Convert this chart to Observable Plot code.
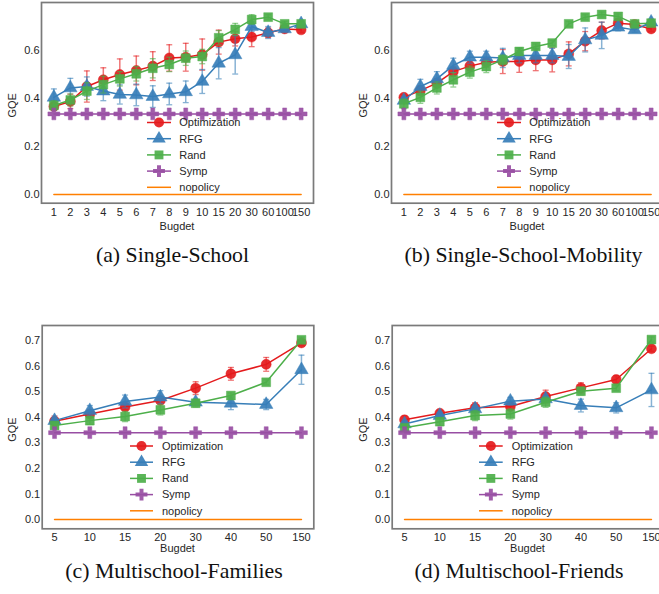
<!DOCTYPE html>
<html><head><meta charset="utf-8">
<script src="https://cdn.jsdelivr.net/npm/d3@7"></script>
<script src="https://cdn.jsdelivr.net/npm/@observablehq/plot@0.6"></script>
<style>
html,body{margin:0;padding:0;background:#fff;overflow:hidden;}
#page{position:relative;width:659px;height:594px;overflow:hidden;background:#fff;}
.panel{position:absolute;width:330px;}
.panel svg{max-width:none !important;}
</style></head><body><div id="page"></div>
<script>
// ---- tick labels / categories ----
const singleBudgets = ["1","2","3","4","5","6","7","8","9","10","15","20","30","60","100","150"];
const multiBudgets = ["5","10","15","20","30","40","50","150"];
const yTicksSingle = [0.0, 0.2, 0.4, 0.6];
const yTicksMulti = [0.0, 0.1, 0.2, 0.3, 0.4, 0.5, 0.6, 0.7];

// ---- series ----
const seriesNames = ["Optimization", "RFG", "Rand", "Symp", "nopolicy"];
const seriesColors = ["#e41a1c", "#377eb8", "#4daf4a", "#984ea3", "#ff7f00"];
const seriesSymbols = ["circle", "triangle", "square", "cross", null];
const captions = ["(a) Single-School", "(b) Single-School-Mobility", "(c) Multischool-Families", "(d) Multischool-Friends"];

// (a) Single-School
const aOpt     = [0.367,0.388,0.450,0.478,0.500,0.517,0.535,0.569,0.572,0.583,0.635,0.649,0.656,0.674,0.690,0.686];
const aOptErr  = [0.015,0.030,0.065,0.050,0.065,0.060,0.060,0.055,0.058,0.065,0.050,0.030,0.040,0.020,0.010,0.010];
const aRfg     = [0.405,0.444,0.450,0.431,0.417,0.415,0.408,0.419,0.428,0.471,0.547,0.582,0.700,0.675,0.690,0.711];
const aRfgErr  = [0.035,0.040,0.040,0.040,0.040,0.045,0.045,0.045,0.045,0.050,0.065,0.080,0.020,0.025,0.010,0.010];
const aRand    = [0.371,0.394,0.431,0.458,0.482,0.503,0.526,0.542,0.568,0.575,0.653,0.688,0.729,0.739,0.711,0.711];
const aRandErr = [0.020,0.025,0.035,0.035,0.030,0.030,0.040,0.030,0.030,0.030,0.030,0.025,0.020,0.010,0.010,0.010];
const aSymp    = [0.336,0.336,0.336,0.336,0.336,0.336,0.336,0.336,0.336,0.336,0.336,0.336,0.336,0.336,0.336,0.336];
const aNo      = [0,0,0,0,0,0,0,0,0,0,0,0,0,0,0,0];

// (b) Single-School-Mobility
const bOpt     = [0.405,0.433,0.464,0.512,0.535,0.551,0.554,0.554,0.561,0.561,0.586,0.639,0.683,0.714,0.708,0.690];
const bOptErr  = [0.010,0.020,0.020,0.020,0.020,0.020,0.050,0.045,0.045,0.050,0.050,0.040,0.035,0.020,0.010,0.010];
const bRfg     = [0.392,0.450,0.482,0.538,0.572,0.572,0.569,0.579,0.579,0.579,0.575,0.644,0.663,0.697,0.686,0.718];
const bRfgErr  = [0.010,0.030,0.030,0.030,0.025,0.025,0.040,0.030,0.030,0.030,0.050,0.050,0.055,0.015,0.010,0.010];
const bRand    = [0.378,0.405,0.444,0.478,0.510,0.533,0.561,0.596,0.617,0.631,0.711,0.739,0.750,0.742,0.711,0.714];
const bRandErr = [0.020,0.025,0.025,0.030,0.025,0.025,0.020,0.015,0.010,0.010,0.010,0.010,0.010,0.010,0.010,0.010];
const bSymp    = [0.336,0.336,0.336,0.336,0.336,0.336,0.336,0.336,0.336,0.336,0.336,0.336,0.336,0.336,0.336,0.336];
const bNo      = [0,0,0,0,0,0,0,0,0,0,0,0,0,0,0,0];

// (c) Multischool-Families
const cOpt     = [0.385,0.413,0.440,0.466,0.514,0.570,0.607,0.691];
const cOptErr  = [0.020,0.010,0.010,0.010,0.025,0.025,0.027,0.010];
const cRfg     = [0.387,0.426,0.462,0.479,0.459,0.455,0.450,0.586];
const cRfgErr  = [0.010,0.020,0.025,0.025,0.010,0.025,0.020,0.057];
const cRand    = [0.368,0.387,0.403,0.429,0.455,0.485,0.537,0.703];
const cRandErr = [0.010,0.015,0.020,0.020,0.015,0.010,0.010,0.010];
const cSymp    = [0.340,0.340,0.340,0.340,0.340,0.340,0.340,0.340];
const cNo      = [0,0,0,0,0,0,0,0];

// (d) Multischool-Friends
const dOpt     = [0.390,0.416,0.437,0.442,0.481,0.515,0.548,0.668];
const dOptErr  = [0.015,0.010,0.020,0.015,0.025,0.020,0.015,0.010];
const dRfg     = [0.374,0.407,0.433,0.463,0.472,0.446,0.437,0.507];
const dRfgErr  = [0.010,0.010,0.010,0.015,0.010,0.025,0.020,0.065];
const dRand    = [0.359,0.383,0.407,0.413,0.459,0.502,0.514,0.704];
const dRandErr = [0.010,0.015,0.020,0.020,0.020,0.015,0.010,0.010];
const dSymp    = [0.340,0.340,0.340,0.340,0.340,0.340,0.340,0.340];
const dNo      = [0,0,0,0,0,0,0,0];

const FONT = "'Liberation Sans', Arial, sans-serif";
const TXT = "#262626";
const d3Symbols = {circle: d3.symbolCircle, triangle: d3.symbolTriangle, square: d3.symbolSquare, cross: d3.symbolCross};
const R = 5;

function panel(cfg) {
  const marks = [];
  cfg.series.forEach((s, k) => {
    const rows = s.values.map((v, i) => ({i, v, e: s.errs ? s.errs[i] : 0}));
    const color = seriesColors[k];
    if (s.errs) {
      marks.push(Plot.ruleX(rows, {x: "i", y1: d => d.v - d.e, y2: d => d.v + d.e, stroke: color, strokeOpacity: 0.6, strokeWidth: 1.5}));
      for (const sign of [1, -1]) {
        marks.push(Plot.link(rows, {x1: d => d.i - cfg.cap, x2: d => d.i + cfg.cap, y1: d => d.v + sign * d.e, y2: d => d.v + sign * d.e, stroke: color, strokeOpacity: 0.6, strokeWidth: 1.3}));
      }
    }
    marks.push(Plot.line(rows, {x: "i", y: "v", stroke: color, strokeWidth: 1.5}));
    if (seriesSymbols[k]) {
      marks.push(Plot.dot(rows, {x: "i", y: "v", symbol: seriesSymbols[k], r: R, fill: color, fillOpacity: 0.92, stroke: color, strokeOpacity: 0.45, strokeWidth: 1}));
    }
  });
  marks.push(Plot.frame({stroke: "#7a7a7a", strokeWidth: 1.7}));

  const n = cfg.labels.length;
  const svg = Plot.plot({
    width: cfg.width, height: cfg.height,
    marginLeft: cfg.ml, marginRight: cfg.mr, marginTop: cfg.mt, marginBottom: cfg.mb,
    style: {fontFamily: FONT, fontSize: "11px", color: TXT, background: "transparent", overflow: "visible", maxWidth: "none"},
    x: {type: "linear", domain: cfg.xdom, ticks: d3.range(n), tickFormat: i => cfg.labels[i], tickSize: 0, tickPadding: cfg.xpad, label: null},
    y: {domain: cfg.ydom, ticks: cfg.yticks, tickFormat: d3.format(".1f"), tickSize: 0, tickPadding: 2, label: null},
    marks
  });
  svg.style.maxWidth = "none";
  const sel = d3.select(svg);
  const fx0 = cfg.ml, fx1 = cfg.width - cfg.mr, fy0 = cfg.mt, fy1 = cfg.height - cfg.mb;
  // axis labels
  sel.append("text").attr("transform", `translate(${cfg.ylabX},${(fy0 + fy1) / 2 + 3}) rotate(-90)`)
    .attr("text-anchor", "middle").attr("dy", "0.35em").attr("font-family", FONT).attr("font-size", 11).attr("fill", TXT).text("GQE");
  sel.append("text").attr("x", (fx0 + fx1) / 2).attr("y", cfg.xlabY).attr("text-anchor", "middle").attr("dy", "0.35em")
    .attr("font-family", FONT).attr("font-size", 11).attr("fill", TXT).text("Bugdet");
  // legend
  const g = sel.append("g").attr("font-family", FONT).attr("font-size", 11).attr("text-anchor", "start");
  seriesNames.forEach((name, k) => {
    const y = cfg.legY + k * 16.2;
    g.append("line").attr("x1", cfg.legX1).attr("x2", cfg.legX2).attr("y1", y).attr("y2", y)
      .attr("stroke", seriesColors[k]).attr("stroke-width", 1.5);
    if (seriesSymbols[k]) {
      g.append("path").attr("d", d3.symbol(d3Symbols[seriesSymbols[k]], Math.PI * R * R)())
        .attr("transform", `translate(${(cfg.legX1 + cfg.legX2) / 2},${y})`).attr("fill", seriesColors[k]).attr("fill-opacity", 0.92);
    }
    g.append("text").attr("x", cfg.legTX).attr("y", y).attr("dy", "0.35em").attr("text-anchor", "start").attr("fill", TXT).text(name);
  });
  const div = document.createElement("div");
  div.className = "panel";
  div.style.left = cfg.left + "px";
  div.style.top = cfg.top + "px";
  div.style.width = cfg.width + "px";
  div.appendChild(svg);
  document.getElementById("page").appendChild(div);
}

const singleBase = {width: 330, height: 235, ml: 41, mr: 17, mt: 2, mb: 32.3, xdom: [-0.75, 15.75], ydom: [-0.036, 0.80], yticks: yTicksSingle, labels: singleBudgets, cap: 0.18, xpad: 5, xlabY: 226, legY: 122.5, legX1: 147, legX2: 171, legTX: 179.3};
const multiBase = {width: 330, height: 260, ml: 41.7, mr: 16.7, mt: 25, mb: 31.7, xdom: [-0.35, 7.35], ydom: [-0.036, 0.759], yticks: yTicksMulti, labels: multiBudgets, cap: 0.085, xpad: 4, xlabY: 248, legY: 146, legX1: 130, legX2: 153, legTX: 162};

panel({...singleBase, left: 0, top: 0, ylabX: 12, series: [
  {values: aOpt, errs: aOptErr}, {values: aRfg, errs: aRfgErr}, {values: aRand, errs: aRandErr}, {values: aSymp}, {values: aNo}]});
panel({...singleBase, left: 350, top: 0, ylabX: 13, series: [
  {values: bOpt, errs: bOptErr}, {values: bRfg, errs: bRfgErr}, {values: bRand, errs: bRandErr}, {values: bSymp}, {values: bNo}]});
panel({...multiBase, left: 0, top: 300, ylabX: 12, series: [
  {values: cOpt, errs: cOptErr}, {values: cRfg, errs: cRfgErr}, {values: cRand, errs: cRandErr}, {values: cSymp}, {values: cNo}]});
panel({...multiBase, left: 350, top: 300, ylabX: 13, legX1: 129, legX2: 152.7, legTX: 161.7, series: [
  {values: dOpt, errs: dOptErr}, {values: dRfg, errs: dRfgErr}, {values: dRand, errs: dRandErr}, {values: dSymp}, {values: dNo}]});

// captions
const cap = d3.select("#page").append("svg").attr("width", 659).attr("height", 594)
  .style("position", "absolute").style("left", "0px").style("top", "0px").style("pointer-events", "none");
const capPos = [[172.5, 262], [523.5, 262], [174, 578], [519, 578]];
captions.forEach((t, k) => {
  cap.append("text").attr("x", capPos[k][0]).attr("y", capPos[k][1]).attr("text-anchor", "middle")
    .attr("font-family", "'Liberation Serif', 'Times New Roman', serif").attr("font-size", 21.8).attr("fill", "#111").text(t);
});
</script></body></html>
